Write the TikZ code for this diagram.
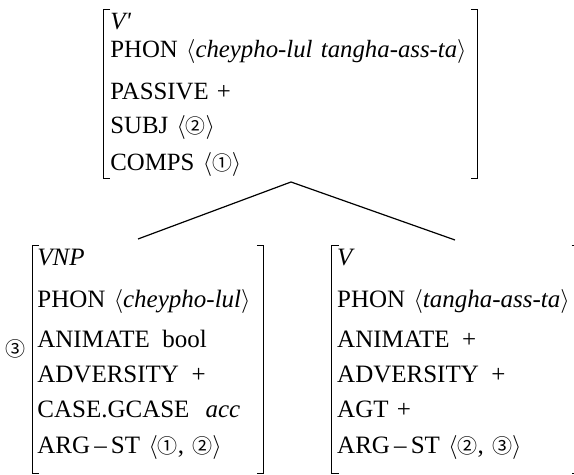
\documentclass[tikz,border=0pt]{standalone}
\usepackage{fontspec}
\setmainfont{Liberation Serif}
\newfontfamily\circfont{Noto Sans CJK SC}[Scale=0.8]
\newcommand{\cnum}[1]{{\circfont #1}}
\newcommand{\lang}{$\langle$}
\newcommand{\rang}{$\rangle$}
\usetikzlibrary{positioning}

\begin{document}
\begin{tikzpicture}[
            x=0.5pt,y=-0.5pt,
            avm/.style={anchor=north west, inner ysep=0pt, align=left},
            topavm/.style={avm, inner xsep=3.5pt, font=\fontsize{12.4}{13.3}\selectfont, text width=180pt, minimum height=83.5pt},
            subavm/.style={avm, inner xsep=2.5pt, font=\fontsize{12.5}{13.6}\selectfont, minimum height=113.5pt},
            bracket/.style={line width=0.5pt},
            branch/.style={line width=0.6pt},
            ]
            \clip (0,0) rectangle (574,475);
            % Nodes
            \node[topavm] (vbar) at (103,10) {\begin{tabular}{@{}l@{}}
                \textit{V\textquotesingle}\\[0.7pt]
                PHON \lang\textit{cheypho-lul tangha-ass-ta}\rang\\[7.7pt]
                PASSIVE +\\[3.7pt]
                SUBJ \lang\cnum{②}\rang\\[5.2pt]
                COMPS \lang\cnum{①}\rang
                \end{tabular}};
            \node[subavm, text width=110.5pt] (vnp) at (32,246) {\begin{tabular}{@{}l@{}}
                \textit{VNP}\\[7.4pt]
                PHON \lang\textit{cheypho-lul}\rang\\[6.4pt]
                ANIMATE\enspace bool\\[3.9pt]
                ADVERSITY\enspace +\\[3.9pt]
                CASE.GCASE\hspace{8pt}\textit{acc}\\[4.4pt]
                ARG\,--\,ST \lang\cnum{①}, \cnum{②}\rang\\[5.4pt]
                \end{tabular}};
            \node[subavm, text width=118pt] (v) [right=34pt of vnp] {\begin{tabular}{@{}l@{}}
                \textit{V}\\[7.4pt]
                PHON \lang\textit{tangha-ass-ta}\rang\\[6.4pt]
                ANIMATE\enspace +\\[3.9pt]
                ADVERSITY\enspace +\\[3.9pt]
                AGT +\\[4.4pt]
                ARG\,--\,ST \lang\cnum{②}, \cnum{③}\rang\\[5.4pt]
                \end{tabular}};
            \node[inner sep=0pt, font=\fontsize{12.5}{13}\selectfont] (tag) at (15,349) {\cnum{③}};
            
            \coordinate (apex) at (291,182);
            \coordinate (vnpjoin) at (138,239);
            \coordinate (vjoin) at (455,240);
            
            % Brackets
            \draw[bracket] ([xshift=3.5pt]vbar.north west) -- (vbar.north west) -- (vbar.south west) -- ([xshift=3.5pt]vbar.south west);
            \draw[bracket] ([xshift=-3.5pt]vbar.north east) -- (vbar.north east) -- (vbar.south east) -- ([xshift=-3.5pt]vbar.south east);
            \draw[bracket] ([xshift=3.5pt]vnp.north west) -- (vnp.north west) -- (vnp.south west) -- ([xshift=3.5pt]vnp.south west);
            \draw[bracket] ([xshift=-3.5pt]vnp.north east) -- (vnp.north east) -- (vnp.south east) -- ([xshift=-3.5pt]vnp.south east);
            \draw[bracket] ([xshift=3.5pt]v.north west) -- (v.north west) -- (v.south west) -- ([xshift=3.5pt]v.south west);
            \draw[bracket] ([xshift=-3.5pt]v.north east) -- (v.north east) -- (v.south east) -- ([xshift=-3.5pt]v.south east);
            
            % Lines
            \draw[branch] (vnpjoin) -- (apex) -- (vjoin);
        \end{tikzpicture}
\end{document}
